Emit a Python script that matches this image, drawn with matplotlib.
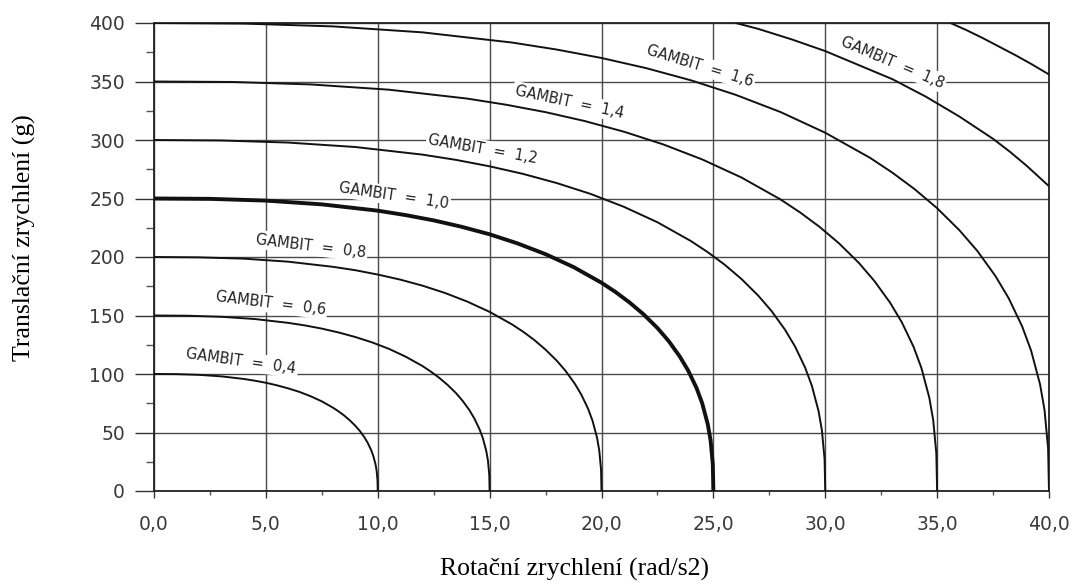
import matplotlib
matplotlib.use("Agg")
import matplotlib.pyplot as plt
from matplotlib.ticker import MultipleLocator

# ---- data ----
# GAMBIT iso-curves: rotational acceleration (x) vs translational acceleration (y)
g04_x = [0, 1, 2, 3, 4, 4.5, 5, 5.5, 6, 6.5, 7, 7.5, 8, 8.25, 8.5, 8.75, 9, 9.2, 9.4,
         9.55, 9.7, 9.8, 9.9, 9.95, 9.99, 10]
g04_y = [100, 99.9, 99.3, 98, 95.8, 94.3, 92.5, 90.3, 87.7, 84.7, 81, 76.6, 71.2, 68,
         64.5, 60.4, 55.7, 51.3, 46, 41.2, 35.2, 30, 22.8, 17.3, 9.1, 0]

g06_x = [0, 1.5, 3, 4.5, 6, 6.75, 7.5, 8.25, 9, 9.75, 10.5, 11.25, 12, 12.375, 12.75,
         13.125, 13.5, 13.8, 14.1, 14.325, 14.55, 14.7, 14.85, 14.925, 14.985, 15]
g06_y = [150, 149.8, 148.9, 147, 143.7, 141.5, 138.8, 135.5, 131.6, 127, 121.5, 114.8,
         106.8, 102, 96.7, 90.6, 83.6, 76.9, 69, 61.7, 52.7, 45, 34.2, 26, 13.7, 0]

g08_x = [0, 2, 4, 6, 8, 9, 10, 11, 12, 13, 14, 15, 16, 16.5, 17, 17.5, 18, 18.4, 18.8,
         19.1, 19.4, 19.6, 19.8, 19.9, 19.98, 20]
g08_y = [200, 199.7, 198.6, 196, 191.6, 188.7, 185, 180.7, 175.5, 169.3, 161.9, 153.1,
         142.4, 136.1, 129, 120.8, 111.4, 102.5, 91.9, 82.3, 70.3, 60, 45.6, 34.6, 18.2, 0]

g10_x = [0, 2.5, 5, 7.5, 10, 11.25, 12.5, 13.75, 15, 16.25, 17.5, 18.75, 20, 20.625,
         21.25, 21.875, 22.5, 23, 23.5, 23.875, 24.25, 24.5, 24.75, 24.875, 24.975, 25]
g10_y = [250, 249.7, 248.2, 245, 239.6, 235.8, 231.3, 225.8, 219.4, 211.6, 202.4, 191.4,
         178, 170.1, 161.2, 151.1, 139.3, 128.2, 114.9, 102.9, 87.9, 75, 57, 43.3, 22.8, 0]

g12_x = [0, 3, 6, 9, 12, 13.5, 15, 16.5, 18, 19.5, 21, 22.5, 24, 24.75, 25.5, 26.25, 27,
         27.6, 28.2, 28.65, 29.1, 29.4, 29.7, 29.85, 29.97, 30]
g12_y = [300, 299.6, 297.8, 294, 287.5, 283, 277.5, 271, 263.2, 254, 242.9, 229.7, 213.6,
         204.1, 193.5, 181.3, 167.1, 153.8, 137.9, 123.5, 105.5, 90, 68.4, 51.9, 27.3, 0]

g14_x = [0, 3.5, 7, 10.5, 14, 15.75, 17.5, 19.25, 21, 22.75, 24.5, 26.25, 28, 28.875,
         29.75, 30.625, 31.5, 32.2, 32.9, 33.425, 33.95, 34.3, 34.65, 34.825, 34.965, 35]
g14_y = [350, 349.6, 347.5, 343, 335.4, 330.1, 323.8, 316.2, 307.1, 296.3, 283.4, 268,
         249.2, 238.1, 225.7, 211.5, 195, 179.4, 160.9, 144.1, 123.1, 105, 79.8, 60.6, 31.9, 0]

g16_x = [0, 4, 8, 12, 16, 18, 20, 22, 24, 26, 28, 30, 32, 33, 34, 35, 36, 36.8, 37.6,
         38.2, 38.8, 39.2, 39.6, 39.8, 39.96, 40]
g16_y = [400, 399.5, 397.1, 392, 383.3, 377.3, 370.1, 361.4, 351, 338.6, 323.9, 306.2,
         284.8, 272.1, 257.9, 241.7, 222.8, 205.1, 183.9, 164.7, 140.7, 120, 91.2, 69.2, 36.4, 0]

g18_x = [26, 27, 28.5, 30, 31.5, 33, 34.5, 36, 37.5, 38.25, 39, 40]
g18_y = [400, 395, 386, 376, 364, 352, 337, 320, 301, 290, 278, 260.5]

g20_x = [35.6, 36.3, 37, 37.75, 38.5, 39.25, 40]
g20_y = [400, 394, 387.5, 380, 372.5, 364.5, 356]

curves = [
    (g04_x, g04_y, 1.4),
    (g06_x, g06_y, 1.4),
    (g08_x, g08_y, 1.4),
    (g10_x, g10_y, 2.8),
    (g12_x, g12_y, 1.4),
    (g14_x, g14_y, 1.4),
    (g16_x, g16_y, 1.4),
    (g18_x, g18_y, 1.4),
    (g20_x, g20_y, 1.4),
]

# curve labels: text, x, y, rotation (deg)
label_texts = ["GAMBIT  =  0,4", "GAMBIT  =  0,6", "GAMBIT  =  0,8", "GAMBIT  =  1,0",
               "GAMBIT  =  1,2", "GAMBIT  =  1,4", "GAMBIT  =  1,6", "GAMBIT  =  1,8"]
label_x = [3.9, 5.2, 7.0, 10.7, 14.7, 18.55, 24.4, 33.0]
label_y = [111, 160.5, 209.5, 252.5, 292, 332.5, 363.5, 366.5]
label_rot = [-8, -7, -7, -8.5, -10, -12, -17, -23]

x_ticks = [0, 5, 10, 15, 20, 25, 30, 35, 40]
x_ticklabels = ["0,0", "5,0", "10,0", "15,0", "20,0", "25,0", "30,0", "35,0", "40,0"]
y_ticks = [0, 50, 100, 150, 200, 250, 300, 350, 400]

x_label = "Rotační zrychlení (rad/s2)"
y_label = "Translační zrychlení (g)"

# ---- figure ----
W, H = 1074, 583
fig = plt.figure(figsize=(W / 100, H / 100), dpi=100)
ax = fig.add_axes([154 / W, 1 - 491 / H, (1049 - 154) / W, (491 - 23) / H])

ax.set_xlim(0, 40)
ax.set_ylim(0, 400)

ax.set_xticks(x_ticks)
ax.set_xticklabels(x_ticklabels)
ax.set_yticks(y_ticks)
ax.xaxis.set_minor_locator(MultipleLocator(2.5))
ax.yaxis.set_minor_locator(MultipleLocator(25))

tick_color = "#3a3a3a"
ax.tick_params(axis="y", which="major", direction="out", length=14, width=1.0,
               color="#333333", pad=7, labelsize=13.5, labelcolor=tick_color)
ax.tick_params(axis="y", which="minor", direction="out", length=6, width=1.0,
               color="#555555")
ax.tick_params(axis="x", which="major", direction="out", length=5, width=1.0,
               color="#333333", pad=12, labelsize=13.5, labelcolor=tick_color)
ax.tick_params(axis="x", which="minor", direction="out", length=3, width=1.0,
               color="#555555")

for lab in ax.get_xticklabels() + ax.get_yticklabels():
    lab.set_family("DejaVu Sans")

ax.grid(True, which="major", color="#4a4a4a", linewidth=1.0, zorder=1)
ax.set_axisbelow(True)

for sp in ax.spines.values():
    sp.set_color("#222222")
    sp.set_linewidth(1.3)

for xs, ys, lw in curves:
    ax.plot(xs, ys, color="#111111", linewidth=lw, zorder=4,
            solid_capstyle="butt", solid_joinstyle="round", clip_on=True)

for t, x, y, r in zip(label_texts, label_x, label_y, label_rot):
    ax.text(x, y, t, rotation=r, rotation_mode="anchor", ha="center", va="center",
            fontsize=10.5, color="#222222", family="DejaVu Sans", zorder=3,
            bbox=dict(facecolor="white", edgecolor="none", pad=1.5))

fig.text(575 / W, 1 - 569 / H, x_label, ha="center", va="center",
         fontsize=18.5, family="Liberation Serif", color="black")
fig.text(24 / W, 1 - 238 / H, y_label, ha="center", va="center", rotation=90,
         fontsize=18.5, family="Liberation Serif", color="black")

fig.savefig("out.png", dpi=100)
